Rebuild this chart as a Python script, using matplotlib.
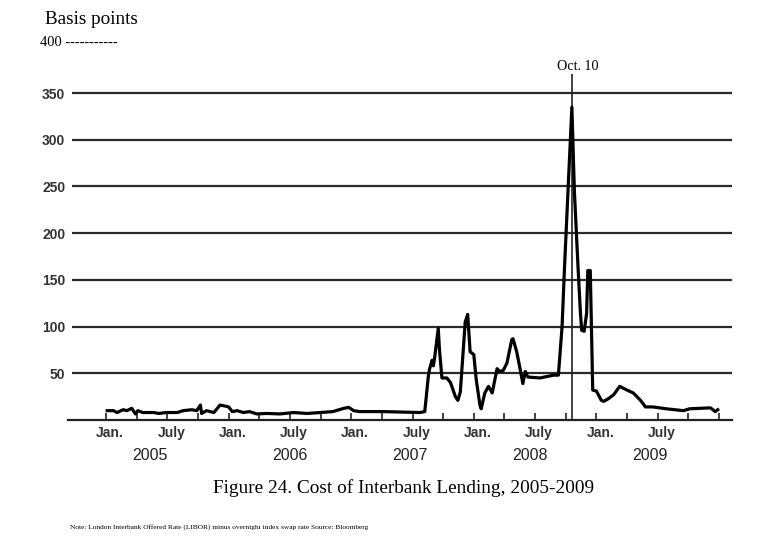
import matplotlib
matplotlib.use("Agg")
import matplotlib.pyplot as plt
from matplotlib.ticker import FixedLocator, NullFormatter
from matplotlib.transforms import ScaledTranslation

# spread in basis points, dates as decimal years
dates = [
    2005.01, 2005.06, 2005.09, 2005.14, 2005.17, 2005.21, 2005.24, 2005.26, 2005.30,
    2005.39, 2005.43, 2005.49, 2005.58, 2005.63, 2005.70, 2005.74, 2005.77, 2005.78,
    2005.82, 2005.88, 2005.93, 2005.97, 2006.00, 2006.03, 2006.07, 2006.12, 2006.17,
    2006.23, 2006.31, 2006.42, 2006.53, 2006.64, 2006.75, 2006.85, 2006.94, 2006.98,
    2007.02, 2007.07, 2007.26, 2007.56, 2007.60,
    2007.63, 2007.64, 2007.66, 2007.67, 2007.68, 2007.71, 2007.72, 2007.74, 2007.78,
    2007.81, 2007.85, 2007.87, 2007.89, 2007.93, 2007.95, 2007.97, 2008.00, 2008.02,
    2008.05, 2008.06, 2008.09, 2008.12, 2008.15, 2008.19, 2008.21, 2008.24, 2008.27,
    2008.31, 2008.32, 2008.35, 2008.38, 2008.40, 2008.42, 2008.44, 2008.54, 2008.65,
    2008.69, 2008.72, 2008.74, 2008.77, 2008.80, 2008.82, 2008.85, 2008.87, 2008.88,
    2008.90, 2008.92, 2008.93, 2008.95, 2008.96, 2008.97, 2009.00, 2009.04,
    2009.06, 2009.10, 2009.14, 2009.19, 2009.25, 2009.30, 2009.36, 2009.40, 2009.46,
    2009.57, 2009.71, 2009.76, 2009.93, 2009.97, 2009.99,
]
spread = [
    10, 10, 8, 11, 10, 12.5, 6.5, 10, 8,
    8, 7, 8, 8, 10, 11, 10, 16, 7,
    10, 8, 16, 15, 14, 9, 10, 8, 9,
    6.5, 7, 6.5, 8, 7, 8, 9, 12.5, 13.5,
    10, 9, 9, 8, 9,
    48, 55, 64, 58, 66, 98, 75, 45, 45,
    40, 25, 21, 30, 105, 113, 73, 70, 43,
    16, 12, 29, 36, 29, 55, 52, 53, 61,
    86, 87, 73, 53, 39, 52, 46, 45, 48,
    48, 100, 164, 250, 335, 246, 164, 114, 96,
    95, 114, 160, 160, 96, 32, 31, 21,
    20, 23, 27, 36, 32, 29, 21, 14, 14,
    12, 10, 12, 13, 9, 11,
]

y_ticks = [50, 100, 150, 200, 250, 300, 350]
month_ticks = [2005.0, 2005.5, 2006.0, 2006.5, 2007.0, 2007.5,
               2008.0, 2008.5, 2009.0, 2009.5]
month_labels = ["Jan.", "July"] * 5
quarter_ticks = [2005.25, 2005.75, 2006.25, 2006.75, 2007.25, 2007.75,
                 2008.25, 2008.75, 2009.25, 2009.75, 2010.0]
years = ["2005", "2006", "2007", "2008", "2009"]
year_pos = [2005.36, 2006.50, 2007.48, 2008.46, 2009.44]
oct10 = 2008.80

W, H = 784, 553
fig = plt.figure(figsize=(W / 100, H / 100), dpi=100)
ax = fig.add_axes([68 / W, 1 - 420 / H, (732 - 68) / W, (420 - 74.4) / H])

ax.plot(dates, spread, color="black", lw=2.3, solid_joinstyle="round", zorder=3)
ax.axvline(oct10, color="#222222", lw=1.2, zorder=2)

ax.set_xlim(2004.69, 2010.106)
ax.set_ylim(0, 370)

for s in ["top", "right", "left"]:
    ax.spines[s].set_visible(False)
ax.spines["bottom"].set_linewidth(1.6)
ax.spines["bottom"].set_color("#222222")

# horizontal rules start a little right of the axis line
ax.hlines(y_ticks, 2004.72, 2010.106, color="#2a2a2a", lw=1.6, zorder=1)
ax.set_yticks(y_ticks)
ax.set_yticklabels([str(v) for v in y_ticks])
ax.tick_params(axis="y", length=0, pad=2, labelsize=10, labelcolor="#333333")
for lab in ax.get_yticklabels():
    lab.set_fontweight("bold")
    lab.set_family("Liberation Sans")

ax.xaxis.set_major_locator(FixedLocator(month_ticks))
ax.xaxis.set_minor_locator(FixedLocator(quarter_ticks))
ax.xaxis.set_major_formatter(NullFormatter())
ax.tick_params(axis="x", which="both", direction="in", length=5, width=1.2,
               color="#222222")

# month labels sit a few pixels right of their ticks
shift = ax.get_xaxis_transform() + ScaledTranslation(4 / 100, 0, fig.dpi_scale_trans)
for xp, lab in zip(month_ticks, month_labels):
    ax.text(xp, -0.038, lab, transform=shift,
            ha="center", va="center", fontsize=10, fontweight="bold",
            color="#333333", family="Liberation Sans", clip_on=False)

for yr, xp in zip(years, year_pos):
    ax.text(xp, -35 / 0.934, yr, ha="center", va="center", fontsize=11.5,
            color="#222222", family="Liberation Sans", clip_on=False)

serif = "Liberation Serif"
fig.text(45 / W, 1 - 20 / H, "Basis points", ha="left", va="center",
         fontsize=13.8, family=serif)
fig.text(40 / W, 1 - 43 / H, "400 -----------", ha="left", va="center",
         fontsize=10.5, family=serif)
fig.text(578 / W, 1 - 67 / H, "Oct. 10", ha="center", va="center",
         fontsize=10.2, family=serif)
fig.text(404 / W, 1 - 488 / H, "Figure 24. Cost of Interbank Lending, 2005-2009",
         ha="center", va="center", fontsize=13.9, family=serif)
fig.text(70 / W, 1 - 527 / H,
         "Note: London Interbank Offered Rate (LIBOR) minus overnight index swap rate Source: Bloomberg",
         ha="left", va="center", fontsize=5.3, family=serif)

fig.savefig("out.png", dpi=100)
